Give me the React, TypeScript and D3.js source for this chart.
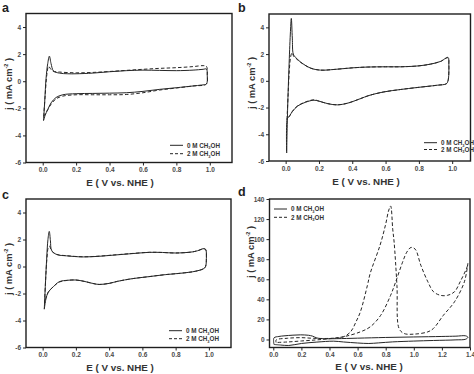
import { useEffect, useRef } from 'react';
import * as d3 from 'd3';

type Pt = [number, number];

// ---- data: [E (V vs NHE), j (mA cm^-2)] ----
const aSolid: Pt[] = [[0.005,-2.9],[0.012,-1.5],[0.02,0.2],[0.03,1.3],[0.04,1.85],[0.05,1.3],[0.065,0.75],[0.1,0.6],[0.15,0.55],[0.2,0.55],[0.3,0.6],[0.4,0.7],[0.5,0.78],[0.6,0.82],[0.7,0.8],[0.8,0.78],[0.9,0.82],[0.96,0.88],[0.98,0.9],[0.985,0.4],[0.98,-0.2],[0.95,-0.28],[0.9,-0.35],[0.8,-0.48],[0.7,-0.6],[0.6,-0.75],[0.5,-0.85],[0.4,-0.88],[0.3,-0.9],[0.2,-0.92],[0.12,-1.0],[0.08,-1.2],[0.05,-1.6],[0.03,-2.1],[0.015,-2.5],[0.005,-2.9]];
const aDashed: Pt[] = [[0.006,-2.6],[0.015,-1],[0.025,0.5],[0.035,1.1],[0.045,0.95],[0.06,0.75],[0.1,0.68],[0.2,0.62],[0.3,0.65],[0.4,0.72],[0.5,0.8],[0.6,0.88],[0.7,0.95],[0.8,1.0],[0.9,1.08],[0.96,1.15],[0.98,1.1],[0.985,0.5],[0.98,-0.2],[0.9,-0.35],[0.8,-0.5],[0.7,-0.65],[0.6,-0.85],[0.5,-0.98],[0.4,-1.0],[0.3,-1.0],[0.2,-1.0],[0.12,-1.1],[0.08,-1.3],[0.05,-1.7],[0.03,-2.1],[0.015,-2.4],[0.006,-2.6]];

const bSolid: Pt[] = [[0.006,-5.4],[0.012,-2],[0.02,1],[0.028,3.5],[0.034,4.67],[0.04,3.2],[0.046,2.0],[0.06,1.75],[0.09,1.4],[0.15,0.95],[0.21,0.8],[0.29,0.85],[0.4,0.97],[0.49,1.03],[0.6,1.05],[0.69,1.05],[0.8,1.12],[0.87,1.25],[0.93,1.45],[0.975,1.75],[0.98,1.2],[0.975,0],[0.965,-0.22],[0.91,-0.33],[0.79,-0.5],[0.69,-0.65],[0.59,-0.83],[0.5,-1.1],[0.45,-1.33],[0.37,-1.68],[0.31,-1.8],[0.25,-1.7],[0.2,-1.52],[0.17,-1.45],[0.12,-1.6],[0.07,-1.9],[0.04,-2.3],[0.025,-2.6],[0.015,-2.75],[0.01,-2.8],[0.006,-5.4]];
const bDashed: Pt[] = [[0.008,-2.9],[0.015,-1],[0.022,0.8],[0.03,1.8],[0.038,2.1],[0.05,1.8],[0.06,1.7],[0.09,1.38],[0.15,0.95],[0.21,0.8],[0.29,0.85],[0.4,0.97],[0.49,1.03],[0.6,1.05],[0.69,1.05],[0.8,1.12],[0.87,1.25],[0.93,1.45],[0.975,1.72],[0.98,1.2],[0.975,0],[0.965,-0.22],[0.91,-0.33],[0.79,-0.5],[0.69,-0.65],[0.59,-0.83],[0.5,-1.1],[0.45,-1.33],[0.37,-1.68],[0.31,-1.8],[0.25,-1.7],[0.2,-1.52],[0.17,-1.42],[0.12,-1.58],[0.07,-1.9],[0.04,-2.3],[0.025,-2.6],[0.008,-2.9]];

const cSolid: Pt[] = [[0.01,-3.16],[0.016,-1.5],[0.024,0.5],[0.032,2.0],[0.04,2.6],[0.047,1.9],[0.054,1.2],[0.084,0.89],[0.144,0.79],[0.244,0.71],[0.344,0.76],[0.444,0.86],[0.544,0.96],[0.644,1.05],[0.72,1.04],[0.8,1.0],[0.9,1.08],[0.94,1.2],[0.965,1.32],[0.98,1.28],[0.985,0.6],[0.98,0],[0.97,-0.15],[0.92,-0.35],[0.83,-0.5],[0.74,-0.6],[0.64,-0.75],[0.54,-0.9],[0.45,-1.1],[0.4,-1.25],[0.34,-1.33],[0.3,-1.25],[0.25,-1.1],[0.2,-1.0],[0.15,-1.02],[0.1,-1.13],[0.064,-1.5],[0.034,-1.9],[0.02,-2.4],[0.01,-3.16]];
const cDashed: Pt[] = [[0.012,-2.7],[0.018,-1],[0.026,0.6],[0.034,1.4],[0.042,1.5],[0.054,1.15],[0.084,0.9],[0.144,0.8],[0.244,0.72],[0.344,0.77],[0.444,0.87],[0.544,0.97],[0.644,1.05],[0.72,1.04],[0.8,1.0],[0.9,1.08],[0.94,1.2],[0.965,1.3],[0.98,1.26],[0.985,0.6],[0.98,0],[0.97,-0.15],[0.92,-0.35],[0.83,-0.5],[0.74,-0.6],[0.64,-0.75],[0.54,-0.9],[0.45,-1.1],[0.4,-1.25],[0.34,-1.33],[0.3,-1.25],[0.25,-1.1],[0.2,-1.0],[0.15,-1.03],[0.1,-1.15],[0.064,-1.5],[0.034,-1.9],[0.02,-2.3],[0.012,-2.7]];

const dSolid: Pt[] = [[0.005,-5],[0.005,1.6],[0.04,3],[0.076,3.6],[0.14,4.3],[0.195,4.6],[0.25,4.2],[0.28,3.3],[0.31,1.5],[0.35,0.8],[0.45,0.8],[0.6,1.3],[0.8,2],[1.0,2.5],[1.2,3.0],[1.3,3.3],[1.37,3.6],[1.385,2.2],[1.37,0.3],[1.3,-0.4],[1.14,-1],[1.0,-1.6],[0.85,-2.4],[0.75,-3.4],[0.68,-4],[0.6,-3.5],[0.5,-2.5],[0.43,-1.7],[0.31,-2.6],[0.2,-4],[0.11,-6],[0.05,-5.5],[0.005,-5]];
const dDashed: Pt[] = [[0.02,-3],[0.02,-0.5],[0.1,1.2],[0.2,1.8],[0.28,1.2],[0.38,1],[0.45,1.5],[0.5,2.7],[0.55,7.6],[0.59,18],[0.62,27.6],[0.67,54],[0.69,66],[0.76,94],[0.8,115],[0.82,128],[0.835,133],[0.85,110],[0.86,97],[0.88,54],[0.895,11],[0.93,6],[1.0,5.3],[1.1,7.6],[1.14,11],[1.21,24],[1.29,37.6],[1.36,57.5],[1.385,76],[1.38,72.5],[1.33,57.5],[1.29,47.6],[1.24,44],[1.19,44],[1.14,47.6],[1.1,57.5],[1.05,74],[1.01,90],[0.98,91.7],[0.95,87],[0.92,77],[0.87,57],[0.835,44],[0.764,24],[0.69,12.6],[0.62,7.6],[0.5,2.7],[0.38,0.5],[0.3,-0.5],[0.2,-1.5],[0.1,-2.5],[0.02,-3]];

const cvTicksX = [0, 0.2, 0.4, 0.6, 0.8, 1.0];
const cvTicksY = [-6, -4, -2, 0, 2, 4];
const dTicksX = [0, 0.2, 0.4, 0.6, 0.8, 1.0, 1.2, 1.4];
const dTicksY = [0, 20, 40, 60, 80, 100, 120, 140];
const legendLabels = ['0 M CH', '2 M CH'];

interface Panel {
  letter: string; lx: number; ly: number;
  left: number; right: number; top: number; bottom: number;
  xDom: [number, number]; yDom: [number, number];
  xTicks: number[]; yTicks: number[];
  solid: Pt[]; dashed: Pt[];
  legX: number; legY: number; legGap: number;
  xLabelX: number; xLabelY: number; yLabelX: number; yLabelY: number;
}

const panels: Panel[] = [
  { letter: 'a', lx: 2, ly: 11.5, left: 26, right: 232, top: 13.5, bottom: 162.5, xDom: [-0.1, 1.133], yDom: [-6, 5],
    xTicks: cvTicksX, yTicks: cvTicksY, solid: aSolid, dashed: aDashed, legX: 170, legY: 145.3, legGap: 8.4,
    xLabelX: 120, xLabelY: 186, yLabelX: 11.5, yLabelY: 84 },
  { letter: 'b', lx: 238, ly: 11.5, left: 269, right: 470.5, top: 14, bottom: 161, xDom: [-0.1, 1.11], yDom: [-6, 5],
    xTicks: cvTicksX, yTicks: cvTicksY, solid: bSolid, dashed: bDashed, legX: 424, legY: 142.7, legGap: 6.8,
    xLabelX: 366, xLabelY: 185, yLabelX: 254.5, yLabelY: 83 },
  { letter: 'c', lx: 2, ly: 199, left: 26, right: 231, top: 199, bottom: 347.5, xDom: [-0.1, 1.133], yDom: [-6, 5],
    xTicks: cvTicksX, yTicks: cvTicksY, solid: cSolid, dashed: cDashed, legX: 169, legY: 330.7, legGap: 8,
    xLabelX: 120, xLabelY: 371, yLabelX: 11.5, yLabelY: 269 },
  { letter: 'd', lx: 238, ly: 196, left: 269.5, right: 470, top: 199, bottom: 347.5, xDom: [-0.027, 1.4], yDom: [-8, 140],
    xTicks: dTicksX, yTicks: dTicksY, solid: dSolid, dashed: dDashed, legX: 274, legY: 209, legGap: 8.3,
    xLabelX: 369, xLabelY: 370, yLabelX: 253.5, yLabelY: 252 },
];

export default function App() {
  const svgRef = useRef<SVGSVGElement>(null);

  useEffect(() => {
    if (!svgRef.current) return;
    const svg = d3.select(svgRef.current);
    svg.selectAll('*').remove();
    const font = 'Liberation Sans, Arial, sans-serif';
    const ink = '#262626';

    panels.forEach(p => {
      const x = d3.scaleLinear().domain(p.xDom).range([p.left, p.right]);
      const y = d3.scaleLinear().domain(p.yDom).range([p.bottom, p.top]);
      const g = svg.append('g');

      const line = d3.line<Pt>().x(d => x(d[0])).y(d => y(d[1])).curve(d3.curveCatmullRom.alpha(0.5));

      g.append('path').attr('d', line(p.dashed)).attr('fill', 'none')
        .attr('stroke', ink).attr('stroke-width', 1).attr('stroke-dasharray', '3.5,2.2');
      g.append('path').attr('d', line(p.solid)).attr('fill', 'none')
        .attr('stroke', ink).attr('stroke-width', 1);

      // frame
      g.append('rect').attr('x', p.left).attr('y', p.top)
        .attr('width', p.right - p.left).attr('height', p.bottom - p.top)
        .attr('fill', 'none').attr('stroke', '#1e1e1e').attr('stroke-width', 1.4);

      // ticks
      const xa = g.append('g').attr('transform', `translate(0,${p.bottom})`)
        .call(d3.axisBottom(x).tickValues(p.xTicks).tickSize(3).tickPadding(2).tickFormat(d => (+d).toFixed(1)));
      const ya = g.append('g').attr('transform', `translate(${p.left},0)`)
        .call(d3.axisLeft(y).tickValues(p.yTicks).tickSize(3).tickPadding(2).tickFormat(d => String(d)));
      [xa, ya].forEach(a => {
        a.select('.domain').remove();
        a.selectAll('line').attr('stroke', '#222').attr('stroke-width', 1);
        a.selectAll('text').attr('fill', '#4a4a4a').attr('font-size', 6.5).attr('font-weight', 'bold').attr('font-family', font);
      });

      // letter
      svg.append('text').attr('x', p.lx).attr('y', p.ly).text(p.letter)
        .attr('font-size', 12.5).attr('font-weight', 'bold').attr('font-family', font).attr('fill', '#1e1e1e');

      // x label
      svg.append('text').attr('x', p.xLabelX).attr('y', p.xLabelY).attr('text-anchor', 'middle')
        .attr('font-size', 9.8).attr('font-weight', 'bold').attr('font-family', font).attr('fill', '#333')
        .text('E ( V vs. NHE )');

      // y label
      const yl = svg.append('text').attr('transform', `translate(${p.yLabelX},${p.yLabelY}) rotate(-90)`)
        .attr('text-anchor', 'middle').attr('font-size', 9.3).attr('font-weight', 'bold').attr('font-family', font).attr('fill', '#333');
      yl.append('tspan').text('j ( mA cm');
      yl.append('tspan').attr('dy', -3.5).attr('font-size', 5.5).text('-2');
      yl.append('tspan').attr('dy', 3.5).text(' )');

      // legend
      legendLabels.forEach((lab, i) => {
        const ly = p.legY + i * p.legGap;
        g.append('line').attr('x1', p.legX).attr('x2', p.legX + 13).attr('y1', ly).attr('y2', ly)
          .attr('stroke', ink).attr('stroke-width', 1).attr('stroke-dasharray', i === 1 ? '3,2' : null);
        const t = g.append('text').attr('x', p.legX + 17).attr('y', ly + 2.3)
          .attr('font-size', 6.3).attr('font-weight', 'bold').attr('font-family', font).attr('fill', '#333');
        t.append('tspan').text(lab);
        t.append('tspan').attr('dy', 1.5).attr('font-size', 4).text('3');
        t.append('tspan').attr('dy', -1.5).text('OH');
      });
    });
  }, []);

  return (
    <div>
      <svg ref={svgRef} width={474} height={374}
        style={{ position: 'absolute', left: 0, top: 0, background: '#fff' }} />
    </div>
  );
}
